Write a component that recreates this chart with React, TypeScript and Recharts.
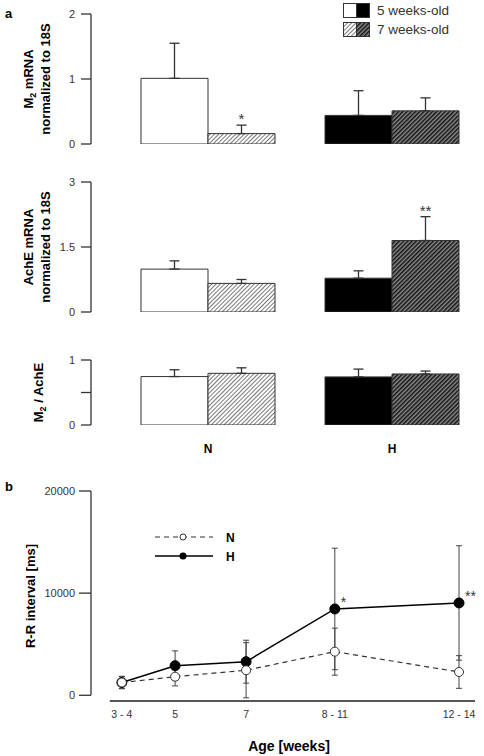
import React from 'react';
import {
  BarChart, Bar, Cell, XAxis, YAxis, ErrorBar, LabelList, Legend,
  LineChart, Line, ReferenceLine,
} from 'recharts';

const FONT = '"Liberation Sans", Arial, sans-serif';
const INK = '#333';

// ---- panel a: bar data ----
const groups = ['N', 'H'];

const m2Week5 = [1.01, 0.44];
const m2Week5Err = [0.54, 0.38];
const m2Week7 = [0.16, 0.51];
const m2Week7Err = [0.13, 0.2];
const m2Sig = ['*', ''];

const achWeek5 = [0.99, 0.78];
const achWeek5Err = [0.19, 0.17];
const achWeek7 = [0.66, 1.65];
const achWeek7Err = [0.09, 0.55];
const achSig = ['', '**'];

const ratioWeek5 = [0.745, 0.74];
const ratioWeek5Err = [0.105, 0.12];
const ratioWeek7 = [0.795, 0.785];
const ratioWeek7Err = [0.085, 0.045];
const ratioSig = ['', ''];

// ---- panel b: R-R interval ----
const ageLabels = ['3 - 4', '5', '7', '8 - 11', '12 - 14'];
const ageMid = [3.5, 5, 7, 9.5, 13];
const rrN = [1250, 1820, 2450, 4270, 2280];
const rrNErr = [600, 900, 2700, 2300, 1600];
const rrH = [1250, 2900, 3290, 8450, 9040];
const rrHErr = [600, 1450, 2100, 5950, 5600];
const rrSig = ['', '', '', '*', '**'];

const week5Fill = ['#fff', '#000'];
const week7Fill = ['url(#hatchLight)', 'url(#hatchDark)'];

const buildRows = (w5: number[], e5: number[], w7: number[], e7: number[], sig: string[]) =>
  groups.map((g, i) => ({
    group: g,
    w5: w5[i],
    w5e: [0, e5[i]],
    w7: w7[i],
    w7e: [0, e7[i]],
    sig: sig[i],
  }));

const m2Rows = buildRows(m2Week5, m2Week5Err, m2Week7, m2Week7Err, m2Sig);
const achRows = buildRows(achWeek5, achWeek5Err, achWeek7, achWeek7Err, achSig);
const ratioRows = buildRows(ratioWeek5, ratioWeek5Err, ratioWeek7, ratioWeek7Err, ratioSig);

const rrData = ageMid.map((a, i) => ({
  age: a,
  n: rrN[i],
  nErr: rrNErr[i],
  h: rrH[i],
  hErr: rrHErr[i],
  sig: rrSig[i],
}));

// asterisk above the error bar of a bar; px/unit taken from the bar itself
const barStar = (rows: any[]) => (props: any) => {
  const vb = props.viewBox || props;
  const r = rows[props.index];
  if (!r || !r.sig) return null;
  const k = vb.height / r.w7;
  const top = vb.y - r.w7e[1] * k;
  return (
    <text x={vb.x + vb.width / 2} y={top - 1} textAnchor="middle" fontSize={15} fill={INK} fontFamily={FONT}>
      {r.sig}
    </text>
  );
};

const lineStar = (props: any) => {
  const { x, y, index } = props;
  const s = rrSig[index];
  if (!s) return null;
  return (
    <text x={x + 6} y={y - 2} fontSize={14} fill={INK} fontFamily={FONT}>{s}</text>
  );
};

// rotated y-axis titles (two lines max, optional subscript 2 after M)
const yTitle = (lines: { x: number; parts: [string, string?, string?] }[]) => (props: any) => {
  const vb = props.viewBox;
  const cy = vb.y + vb.height / 2;
  return (
    <g>
      {lines.map((ln, i) => (
        <text key={i} x={ln.x} y={cy} transform={`rotate(-90, ${ln.x}, ${cy})`} textAnchor="middle"
          fontSize={13} fontWeight="bold" fill="#000" fontFamily={FONT}>
          <tspan>{ln.parts[0]}</tspan>
          {ln.parts[1] ? <tspan fontSize={9} dy={3}>{ln.parts[1]}</tspan> : null}
          {ln.parts[2] ? <tspan dy={-3}>{ln.parts[2]}</tspan> : null}
        </text>
      ))}
    </g>
  );
};

const BarLegend = () => (
  <svg width={140} height={40} style={{ display: 'block' }}>
    <rect x={3.5} y={3.5} width={13} height={14} fill="#fff" stroke={INK} />
    <rect x={16.5} y={3.5} width={13} height={14} fill="#000" stroke={INK} />
    <rect x={3.5} y={22.5} width={13} height={14} fill="url(#hatchLight)" stroke={INK} />
    <rect x={16.5} y={22.5} width={13} height={14} fill="url(#hatchDark)" stroke={INK} />
    <text x={37} y={15} fontSize={13.5} fill={INK} fontFamily={FONT}>5 weeks-old</text>
    <text x={37} y={34} fontSize={13.5} fill={INK} fontFamily={FONT}>7 weeks-old</text>
  </svg>
);

const LineLegend = () => (
  <svg width={90} height={34} style={{ display: 'block' }}>
    <line x1={5} y1={7} x2={63} y2={7} stroke={INK} strokeWidth={1.2} strokeDasharray="5 4" />
    <circle cx={33} cy={7} r={3} fill="#fff" stroke={INK} />
    <text x={76} y={11.5} fontSize={12} fontWeight="bold" fill="#000" fontFamily={FONT}>N</text>
    <line x1={5} y1={26} x2={63} y2={26} stroke="#000" strokeWidth={1.5} />
    <circle cx={33} cy={26} r={3.5} fill="#000" />
    <text x={76} y={30.5} fontSize={12} fontWeight="bold" fill="#000" fontFamily={FONT}>H</text>
  </svg>
);

type PanelProps = {
  rows: any[];
  top: number;
  height: number;
  margin: { top: number; right: number; bottom: number; left: number };
  domain: [number, number];
  ticks: number[];
  tickFmt?: (v: number) => string;
  showX?: boolean;
  title: any;
  legend?: boolean;
};

const BarPanel = ({ rows, top, height, margin, domain, ticks, tickFmt, showX, title, legend }: PanelProps) => (
  <div style={{ position: 'absolute', left: 0, top }}>
    <BarChart width={484} height={height} data={rows} margin={margin} barGap={0} barCategoryGap={25}>
      <XAxis
        dataKey="group"
        hide={!showX}
        padding={{ left: 25, right: 0 }}
        axisLine={false}
        tickLine={false}
        tickSize={0}
        tickMargin={19}
        height={40}
        tick={{ fontSize: 12, fontWeight: 'bold', fill: '#000', fontFamily: FONT }}
      />
      <YAxis
        width={91}
        domain={domain}
        ticks={ticks}
        allowDataOverflow
        tickFormatter={tickFmt}
        tickSize={10}
        tickMargin={6}
        axisLine={{ stroke: INK, strokeWidth: 1.3 }}
        tickLine={{ stroke: INK, strokeWidth: 1.3 }}
        tick={{ fontSize: 11, fill: INK, fontFamily: FONT }}
        label={{ content: title }}
      />
      {legend ? (
        <Legend
          layout="vertical"
          align="center"
          verticalAlign="middle"
          wrapperStyle={{ left: 340, top: 0, width: 140 }}
          content={() => <BarLegend />}
        />
      ) : null}
      <Bar dataKey="w5" stroke={INK} strokeWidth={1} isAnimationActive={false}>
        {rows.map((r, i) => <Cell key={r.group} fill={week5Fill[i]} />)}
        <ErrorBar dataKey="w5e" width={5} stroke={INK} strokeWidth={1.3} direction="y" />
      </Bar>
      <Bar dataKey="w7" stroke={INK} strokeWidth={1} isAnimationActive={false}>
        {rows.map((r, i) => <Cell key={r.group} fill={week7Fill[i]} />)}
        <ErrorBar dataKey="w7e" width={5} stroke={INK} strokeWidth={1.3} direction="y" />
        <LabelList dataKey="sig" content={barStar(rows)} />
      </Bar>
    </BarChart>
  </div>
);

const tag = (txt: string, x: number, y: number) => (
  <div style={{ position: 'absolute', left: x, top: y, fontFamily: FONT, fontWeight: 'bold', fontSize: 13, lineHeight: '13px' }}>
    {txt}
  </div>
);

export default function App() {
  return (
    <div style={{ position: 'absolute', left: 0, top: 0, width: 484, height: 756, background: '#fff', fontFamily: FONT }}>
      <svg width={0} height={0} style={{ position: 'absolute' }}>
        <defs>
          <pattern id="hatchLight" width={3} height={3} patternUnits="userSpaceOnUse" patternTransform="rotate(45)">
            <rect width={3} height={3} fill="#fff" />
            <rect width={1} height={3} fill="#7a7a7a" />
          </pattern>
          <pattern id="hatchDark" width={3} height={3} patternUnits="userSpaceOnUse" patternTransform="rotate(45)">
            <rect width={3} height={3} fill="#8c8c8c" />
            <rect width={1.5} height={3} fill="#111" />
          </pattern>
        </defs>
      </svg>

      {tag('a', 5, 7)}
      {tag('b', 5, 480)}

      <BarPanel
        rows={m2Rows}
        top={0}
        height={160}
        margin={{ top: 14, right: 0, bottom: 16, left: 0 }}
        domain={[0, 2]}
        ticks={[0, 1, 2]}
        legend
        title={yTitle([
          { x: 33, parts: ['M', '2', ' mRNA'] },
          { x: 50, parts: ['normalized to 18S'] },
        ])}
      />
      <BarPanel
        rows={achRows}
        top={160}
        height={170}
        margin={{ top: 22, right: 0, bottom: 18, left: 0 }}
        domain={[0, 3]}
        ticks={[0, 1.5, 3]}
        title={yTitle([
          { x: 33, parts: ['AchE mRNA'] },
          { x: 50, parts: ['normalized to 18S'] },
        ])}
      />
      <BarPanel
        rows={ratioRows}
        top={330}
        height={150}
        margin={{ top: 30, right: 0, bottom: 15, left: 0 }}
        domain={[0, 1]}
        ticks={[0, 0.5, 1]}
        tickFmt={(v) => (v === 0.5 ? '' : String(v))}
        showX
        title={yTitle([{ x: 43, parts: ['M', '2', ' / AchE'] }])}
      />

      <div style={{ position: 'absolute', left: 0, top: 480 }}>
        <LineChart width={484} height={276} data={rrData} margin={{ top: 11, right: 9, bottom: 0, left: 0 }}>
          <XAxis
            dataKey="age"
            type="number"
            domain={[2.63, 13.45]}
            allowDataOverflow
            ticks={ageMid}
            tickFormatter={(v) => ageLabels[ageMid.indexOf(v)]}
            axisLine={false}
            tickLine={false}
            tickSize={6}
            tickMargin={4}
            height={55}
            tick={{ fontSize: 10.5, fill: INK, fontFamily: FONT }}
            label={{
              content: () => (
                <text x={289} y={271} textAnchor="middle" fontSize={14} fontWeight="bold" fill="#000" fontFamily={FONT}>
                  Age [weeks]
                </text>
              ),
            }}
          />
          <YAxis
            width={91}
            domain={[-560, 20000]}
            allowDataOverflow
            ticks={[0, 10000, 20000]}
            axisLine={false}
            tickSize={12}
            tickMargin={4}
            tickLine={{ stroke: INK, strokeWidth: 1.3 }}
            tick={{ fontSize: 11, fill: INK, fontFamily: FONT }}
            label={{ content: yTitle([{ x: 35, parts: ['R-R interval [ms]'] }]) }}
          />
          <ReferenceLine segment={[{ x: 2.63, y: 0 }, { x: 2.63, y: 20000 }]} stroke={INK} strokeWidth={1.3} />
          <ReferenceLine segment={[{ x: 3.16, y: -560 }, { x: 13.45, y: -560 }]} stroke="#555" strokeWidth={2} />
          <Legend
            layout="vertical"
            align="center"
            verticalAlign="middle"
            wrapperStyle={{ left: 150, top: 50, width: 90 }}
            content={() => <LineLegend />}
          />
          <Line
            dataKey="h"
            stroke="#000"
            strokeWidth={1.5}
            dot={{ r: 5, fill: '#000', stroke: '#000', strokeWidth: 1 }}
            isAnimationActive={false}
          >
            <ErrorBar dataKey="hErr" width={3} stroke="#444" strokeWidth={1} direction="y" />
            <LabelList dataKey="sig" content={lineStar} />
          </Line>
          <Line
            dataKey="n"
            stroke={INK}
            strokeWidth={1.2}
            strokeDasharray="5 4"
            dot={{ r: 4.5, fill: '#fff', stroke: INK, strokeWidth: 1, strokeDasharray: '' }}
            isAnimationActive={false}
          >
            <ErrorBar dataKey="nErr" width={3} stroke="#444" strokeWidth={1} direction="y" />
          </Line>
        </LineChart>
      </div>
    </div>
  );
}
